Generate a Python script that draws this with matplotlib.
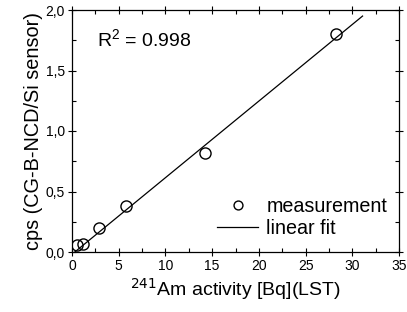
import matplotlib
matplotlib.use('Agg')
import matplotlib.pyplot as plt
from matplotlib.ticker import MultipleLocator

# measured points
activity = [0.5, 1.2, 2.9, 5.8, 14.2, 28.3]
cps = [0.06, 0.07, 0.20, 0.38, 0.82, 1.80]

# linear fit end points
fit_x = [0.3, 31.1]
fit_y = [0.0, 1.95]

y_ticks = [0.0, 0.5, 1.0, 1.5, 2.0]
y_labels = ['0,0', '0,5', '1,0', '1,5', '2,0']

plt.rcParams['font.family'] = ['Liberation Sans', 'DejaVu Sans']

fig = plt.figure(figsize=(4.07, 3.12), dpi=100)
ax = fig.add_axes([72 / 407, 60 / 312, 327 / 407, 242 / 312])

ax.plot(activity, cps, 'o', mfc='none', mec='black', ms=8, mew=1.0, label='measurement')
ax.plot(fit_x, fit_y, '-', color='black', lw=0.9, label='linear fit')

ax.set_xlim(0, 35)
ax.set_ylim(0, 2.0)
ax.xaxis.set_major_locator(MultipleLocator(5))
ax.xaxis.set_minor_locator(MultipleLocator(2.5))
ax.set_yticks(y_ticks)
ax.set_yticklabels(y_labels)
ax.yaxis.set_minor_locator(MultipleLocator(0.25))

ax.tick_params(which='major', direction='inout', length=6, width=0.8, labelsize=10,
               top=True, right=True, pad=2)
ax.tick_params(which='minor', direction='in', length=3, width=0.8, top=True, right=True)
for s in ax.spines.values():
    s.set_linewidth(0.9)

ax.set_xlabel('$^{241}$Am activity [Bq](LST)', fontsize=14, labelpad=2)
ax.set_ylabel('cps (CG-B-NCD/Si sensor)', fontsize=14.3, labelpad=2)

ax.text(0.076, 0.88, '$\\mathregular{R^2}$ = 0.998', transform=ax.transAxes,
        fontsize=14, va='center', ha='left')

ax.legend(loc='lower right', bbox_to_anchor=(1.0, 0.01), frameon=False, fontsize=14.2,
          handlelength=2.1, handletextpad=0.4, labelspacing=0.15, borderaxespad=0.2,
          markerscale=0.8)

fig.savefig('out.png', dpi=100)
